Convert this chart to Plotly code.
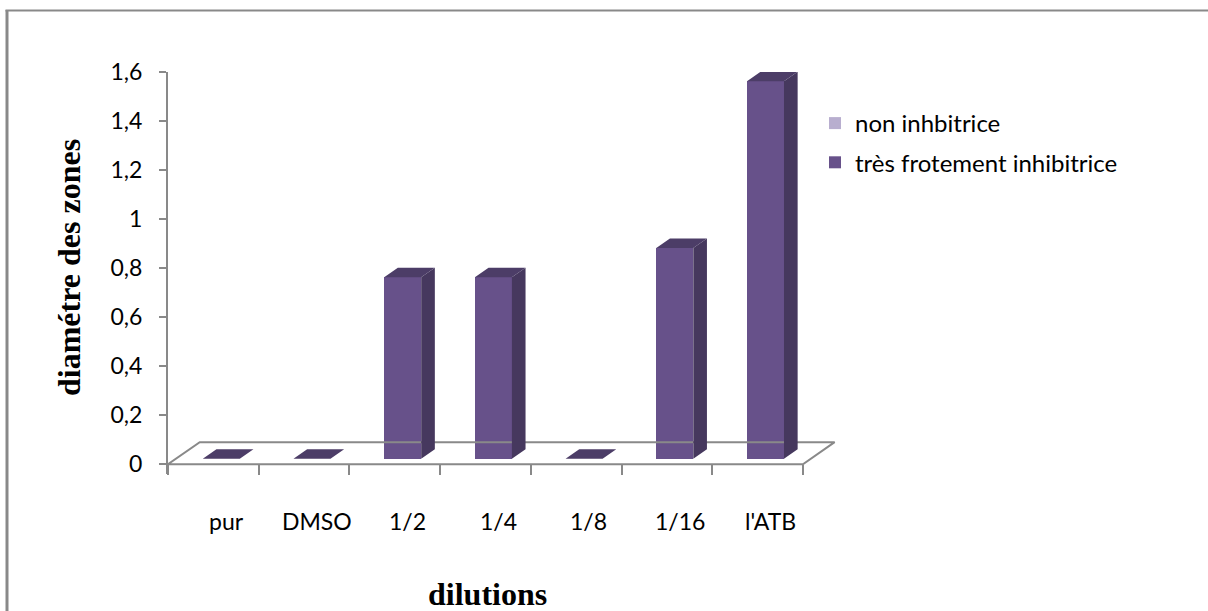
import plotly.graph_objects as go

# ---- data ----
categories = ["pur", "DMSO", "1/2", "1/4", "1/8", "1/16", "l'ATB"]
non_inhibitrice = [0, 0, 0, 0, 0, 0, 0]
tres_fortement = [0, 0, 0.74, 0.74, 0, 0.86, 1.54]
y_ticks = [0, 0.2, 0.4, 0.6, 0.8, 1.0, 1.2, 1.4, 1.6]
y_tick_text = ["0", "0,2", "0,4", "0,6", "0,8", "1", "1,2", "1,4", "1,6"]

# ---- geometry / style ----
W_FIG, H_FIG = 1208, 611
PL, PR, PT, PB = 168, 860, 72, 474          # plot area in pixels
PX_PER_CAT = 90.7
X0 = -0.5
X1 = X0 + (PR - PL) / PX_PER_CAT
YMIN, YMAX = -0.04, 1.6

FLOOR_DX, FLOOR_DY = 0.35, 0.09              # floor depth (perspective)
F_FRONT, F_BACK = 0.25, 0.68                  # bar depth fractions
HALF_W = 0.204

C_FRONT = "#67518a"
C_SIDE = "#46385e"
C_TOP = "#4c3d67"
C_LIGHT = "#b8aecf"
C_AXIS = "#898989"
FONT = "Lato"

def px2paper_x(px):
    return (px - PL) / (PR - PL)

def px2paper_y(py):
    return (PB - py) / (PB - PT)

n = len(categories)
xs = list(range(n))
sx = F_FRONT * FLOOR_DX
sy = F_FRONT * FLOOR_DY
ddx = (F_BACK - F_FRONT) * FLOOR_DX
ddy = (F_BACK - F_FRONT) * FLOOR_DY

fig = go.Figure()

# floor
fig.add_trace(go.Scatter(
    x=[X0, X0 + n, X0 + n + FLOOR_DX, X0 + FLOOR_DX, X0],
    y=[0, 0, FLOOR_DY, FLOOR_DY, 0],
    mode="lines", line=dict(color=C_AXIS, width=2),
    hoverinfo="skip", showlegend=False))

# front faces
fig.add_trace(go.Bar(
    x=[x + sx for x in xs], y=non_inhibitrice, base=sy, width=2 * HALF_W,
    marker=dict(color=C_LIGHT, line=dict(width=0)),
    name="non inhbitrice", legendgroup="a"))
fig.add_trace(go.Bar(
    x=[x + sx for x in xs], y=tres_fortement, base=sy, width=2 * HALF_W,
    marker=dict(color=C_FRONT, line=dict(width=0)),
    name="très frotement inhibitrice", legendgroup="b"))

# side faces and top faces
side_x, side_y, top_x, top_y = [], [], [], []
for x, v in zip(xs, tres_fortement):
    xl = x + sx - HALF_W
    xr = x + sx + HALF_W
    yb = sy
    yt = sy + v
    if v > 0:
        side_x += [xr, xr, xr + ddx, xr + ddx, xr, None]
        side_y += [yb, yt, yt + ddy, yb + ddy, yb, None]
    top_x += [xl, xr, xr + ddx, xl + ddx, xl, None]
    top_y += [yt, yt, yt + ddy, yt + ddy, yt, None]

fig.add_trace(go.Scatter(x=side_x, y=side_y, fill="toself", fillcolor=C_SIDE,
                         mode="lines", line=dict(width=0, color=C_SIDE),
                         hoverinfo="skip", showlegend=False))
fig.add_trace(go.Scatter(x=top_x, y=top_y, fill="toself", fillcolor=C_TOP,
                         mode="lines", line=dict(width=0, color=C_TOP),
                         hoverinfo="skip", showlegend=False))

annotations = []
for x, c in zip(xs, categories):
    annotations.append(dict(x=x + 0.14, y=0, xref="x", yref="y", text=c,
                            showarrow=False, xanchor="center", yanchor="middle",
                            yshift=-(521 - 464),
                            font=dict(family=FONT, size=23, color="#000")))
annotations.append(dict(x=px2paper_x(487), y=px2paper_y(594), xref="paper", yref="paper",
                        xanchor="center", yanchor="middle",
                        text="<b>dilutions</b>", showarrow=False,
                        font=dict(family="Liberation Serif", size=32, color="#000")))
annotations.append(dict(x=px2paper_x(69), y=px2paper_y(268), xref="paper", yref="paper",
                        xanchor="center", yanchor="middle",
                        text="<b>diamétre des zones</b>", showarrow=False, textangle=-90,
                        font=dict(family="Liberation Serif", size=32, color="#000")))

shapes = [
    dict(type="line", xref="paper", yref="paper",
         x0=px2paper_x(7), x1=px2paper_x(7), y0=px2paper_y(10), y1=px2paper_y(620),
         line=dict(color=C_AXIS, width=3)),
    dict(type="line", xref="paper", yref="paper",
         x0=px2paper_x(5.5), x1=px2paper_x(1220), y0=px2paper_y(10.5), y1=px2paper_y(10.5),
         line=dict(color=C_AXIS, width=2)),
]

fig.update_layout(
    width=W_FIG, height=H_FIG,
    margin=dict(l=PL, r=W_FIG - PR, t=PT, b=H_FIG - PB, pad=0),
    paper_bgcolor="white", plot_bgcolor="rgba(0,0,0,0)",
    barmode="overlay", bargap=0,
    showlegend=True,
    legend=dict(x=px2paper_x(815), y=px2paper_y(101), xanchor="left", yanchor="top",
                font=dict(family=FONT, size=24, color="#000"),
                traceorder="grouped", tracegroupgap=5,
                bgcolor="rgba(0,0,0,0)"),
    annotations=annotations,
    shapes=shapes,
    xaxis=dict(range=[X0, X1], showgrid=False, zeroline=False, showline=False,
               tickmode="array", tickvals=[X0 + k for k in range(n + 1)],
               ticktext=[""] * (n + 1),
               ticks="outside", ticklen=10, tickwidth=2, tickcolor=C_AXIS,
               anchor="free", position=px2paper_y(464)),
    yaxis=dict(range=[YMIN, YMAX], showgrid=False, zeroline=False,
               showline=True, linecolor=C_AXIS, linewidth=2,
               tickmode="array", tickvals=y_ticks, ticktext=y_tick_text,
               ticks="outside", ticklen=7, tickwidth=2, tickcolor=C_AXIS,
               ticklabelstandoff=12,
               tickfont=dict(family=FONT, size=23, color="#000")),
)

fig.write_html("out.html", config={"displayModeBar": False},
               post_script="document.body.style.margin='0px';")
